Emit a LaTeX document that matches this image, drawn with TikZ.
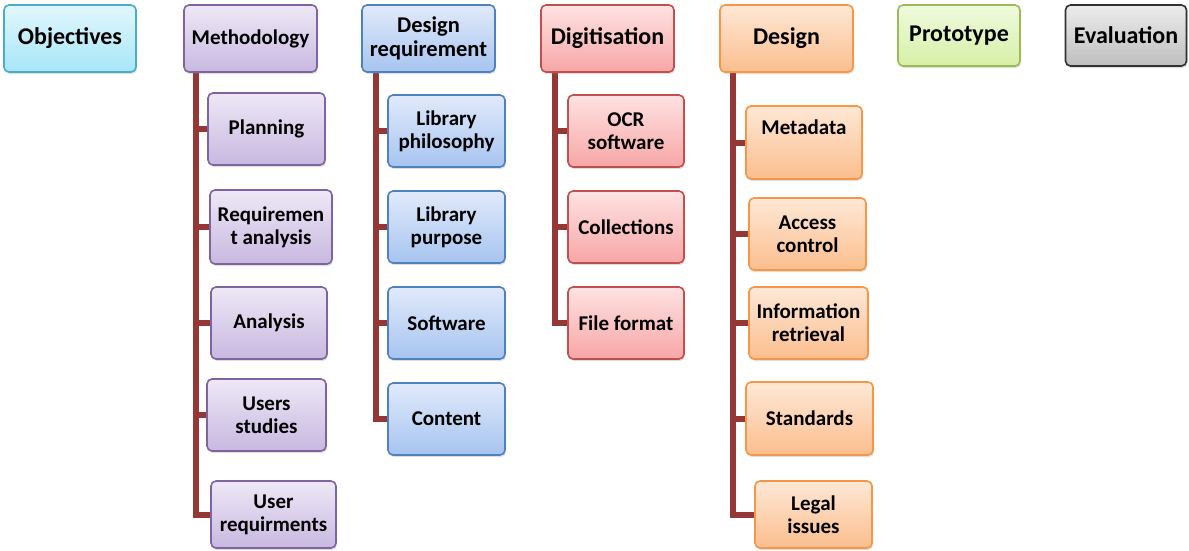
\documentclass[tikz,border=0pt]{standalone}
\usepackage{fontspec}
\setmainfont{Carlito}
\usetikzlibrary{shadows}
\pgfdeclarelayer{background}
\pgfsetlayers{background,main}
\definecolor{conn}{HTML}{953735}
\tikzset{
  x=1pt,y=-1pt,
  box/.style={draw, line width=1.6pt, rounded corners=5pt, inner sep=0pt, align=center,
    font=\fontsize{21}{23}\selectfont\bfseries,
    drop shadow={shadow xshift=1pt, shadow yshift=-2pt, opacity=0.25}},
  big/.style={font=\fontsize{24}{26}\selectfont\bfseries},
  cyanb/.style={box, draw={rgb,255:red,75;green,172;blue,198}, top color={rgb,255:red,226;green,247;blue,253}, bottom color={rgb,255:red,166;green,230;blue,247}},
  purpb/.style={box, draw={rgb,255:red,128;green,100;blue,162}, top color={rgb,255:red,238;green,232;blue,246}, bottom color={rgb,255:red,200;green,184;blue,224}},
  blueb/.style={box, draw={rgb,255:red,79;green,129;blue,189}, top color={rgb,255:red,225;green,234;blue,250}, bottom color={rgb,255:red,166;green,196;blue,240}},
  redb/.style={box, draw={rgb,255:red,192;green,80;blue,77}, top color={rgb,255:red,254;green,226;blue,226}, bottom color={rgb,255:red,247;green,166;blue,166}},
  orangeb/.style={box, draw={rgb,255:red,247;green,150;blue,70}, top color={rgb,255:red,254;green,232;blue,214}, bottom color={rgb,255:red,251;green,190;blue,142}},
  greenb/.style={box, draw={rgb,255:red,155;green,187;blue,89}, top color={rgb,255:red,240;green,250;blue,222}, bottom color={rgb,255:red,214;green,240;blue,166}},
  greyb/.style={box, draw={rgb,255:red,50;green,50;blue,50}, top color={rgb,255:red,236;green,236;blue,236}, bottom color={rgb,255:red,190;green,190;blue,190}},
  connline/.style={draw=conn, line width=6pt},
}
\begin{document}
\begin{tikzpicture}
\useasboundingbox (0,0) rectangle (1189,550);
% top level
\node[cyanb, big, minimum width=132, minimum height=67] (obj) at (70,38.5) {Objectives};
\node[purpb, minimum width=133, minimum height=67] (meth) at (250.5,38.5) {Methodology};
\node[blueb, font=\fontsize{22.5}{24}\selectfont\bfseries, minimum width=133, minimum height=67] (dreq) at (428.5,38.5) {Design\\requirement};
\node[redb, big, minimum width=133, minimum height=67] (digi) at (607.5,38.5) {Digitisation};
\node[orangeb, big, minimum width=133, minimum height=67] (des) at (786.5,38.5) {Design};
\node[greenb, big, minimum width=122, minimum height=61] (proto) at (959,35.5) {Prototype};
\node[greyb, big, minimum width=121, minimum height=61] (eval) at (1126,35.5) {Evaluation};
% methodology children
\node[purpb, minimum width=117, minimum height=72] (plan) at (266.5,129) {Planning};
\node[purpb, minimum width=122, minimum height=74] (mreq) at (271,227) {Requiremen\\t analysis};
\node[purpb, minimum width=116, minimum height=72] (anal) at (269,323) {Analysis};
\node[purpb, minimum width=119, minimum height=72] (users) at (266.5,415) {Users\\studies};
\node[purpb, minimum width=125, minimum height=67] (ureq) at (273.5,514.5) {User\\requirments};
% design requirement children
\node[blueb, minimum width=117, minimum height=72] (lphil) at (446.5,131) {Library\\philosophy};
\node[blueb, minimum width=117, minimum height=72] (lpurp) at (446.5,227) {Library\\purpose};
\node[blueb, minimum width=117, minimum height=72] (soft) at (446.5,323) {Software};
\node[blueb, minimum width=117, minimum height=72] (cont) at (446.5,419) {Content};
% digitisation children
\node[redb, minimum width=116, minimum height=72] (ocr) at (626,131) {OCR\\software};
\node[redb, minimum width=116, minimum height=72] (coll) at (626,227) {Collections};
\node[redb, minimum width=116, minimum height=72] (ff) at (626,323) {File format};
% design children
\node[orangeb, minimum width=116, minimum height=73] (meta) at (804,142.5) {Metadata\\\strut};
\node[orangeb, minimum width=117, minimum height=72] (acc) at (807.5,234) {Access\\control};
\node[orangeb, minimum width=119, minimum height=72] (info) at (808.5,323) {Information\\retrieval};
\node[orangeb, minimum width=127, minimum height=73] (stand) at (809.5,418.5) {Standards};
\node[orangeb, minimum width=117, minimum height=67] (legal) at (813.5,514.5) {Legal\\issues};
% connectors
\begin{pgfonlayer}{background}
\foreach \c in {plan,mreq,anal,users,ureq}
  \draw[connline] ([xshift=13pt]meth.south west) |- (\c.west);
\foreach \c in {lphil,lpurp,soft,cont}
  \draw[connline] ([xshift=14.5pt]dreq.south west) |- (\c.west);
\foreach \c in {ocr,coll,ff}
  \draw[connline] ([xshift=15pt]digi.south west) |- (\c.west);
\foreach \c in {meta,acc,info,stand,legal}
  \draw[connline] ([xshift=14pt]des.south west) |- (\c.west);
\end{pgfonlayer}
\end{tikzpicture}
\end{document}
